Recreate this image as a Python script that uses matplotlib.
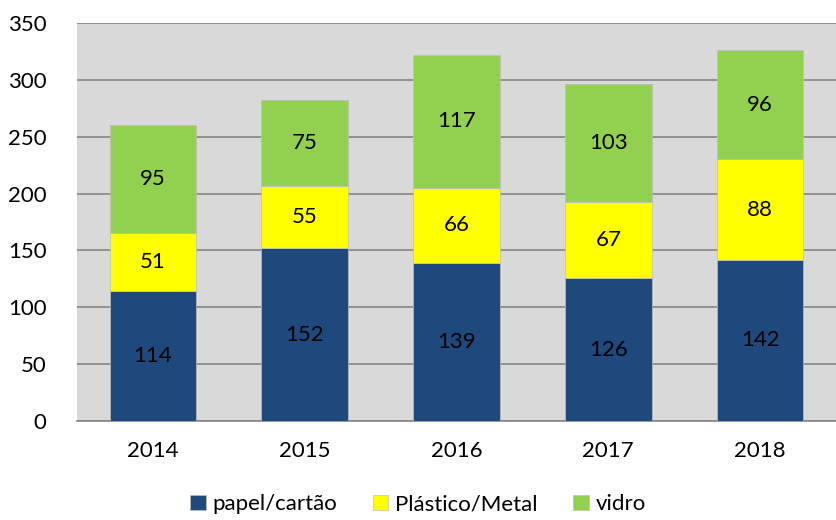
import numpy as np
import matplotlib
matplotlib.use("Agg")
import matplotlib.pyplot as plt

years = ["2014", "2015", "2016", "2017", "2018"]
papel = [114, 152, 139, 126, 142]
plastico = [51, 55, 66, 67, 88]
vidro = [95, 75, 117, 103, 96]

series_names = ["papel/cartão", "Plástico/Metal", "vidro"]
colors = ["#1F497D", "#FFFF00", "#92D050"]

plt.rcParams.update({
    "font.family": ["Lato", "DejaVu Sans"],
    "font.size": 16,
})

fig = plt.figure(figsize=(8.36, 5.2), dpi=100)
ax = fig.add_axes([0.092, 0.190, 0.908, 0.766])
ax.set_facecolor("#D9D9D9")

x = np.arange(len(years))
width = 0.57
bottom = np.zeros(len(years))
for name, vals, col in zip(series_names, [papel, plastico, vidro], colors):
    vals = np.array(vals)
    ax.bar(x, vals, width, bottom=bottom, color=col, label=name,
           edgecolor="#BFBFBF", linewidth=0.5, zorder=3)
    for xi, b, v in zip(x, bottom, vals):
        ax.text(xi, b + v / 2, str(v), ha="center", va="center",
                fontsize=16, color="black", zorder=4)
    bottom = bottom + vals

ax.set_xlim(-0.5, len(years) - 0.5)
ax.set_ylim(0, 350)
ax.set_yticks(range(0, 351, 50))
ax.set_xticks(x)
ax.set_xticklabels(years)
ax.yaxis.grid(True, color="#868686", linewidth=1.2, zorder=0)
ax.set_axisbelow(True)
for side in ["top", "right", "left"]:
    ax.spines[side].set_visible(False)
ax.spines["bottom"].set_color("#868686")
ax.spines["bottom"].set_linewidth(1.2)
ax.tick_params(axis="both", length=0, labelsize=16)
ax.tick_params(axis="y", pad=22)
ax.tick_params(axis="x", pad=14)

fig.legend(loc="center", bbox_to_anchor=(0.5, 0.03), ncol=3, frameon=False,
           handlelength=0.7, handleheight=0.7, handletextpad=0.3,
           columnspacing=1.6, fontsize=16, borderpad=0.1)

fig.savefig("out.png", dpi=100)
